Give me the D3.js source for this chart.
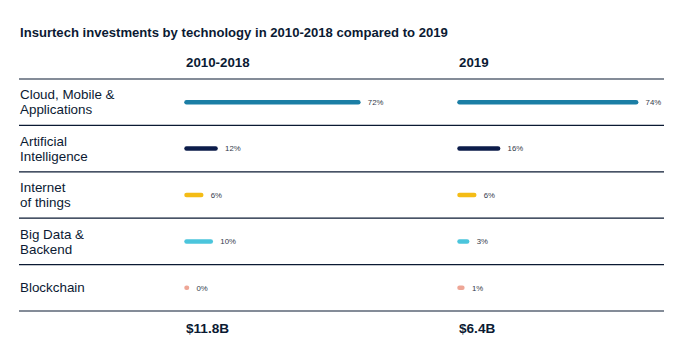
<!DOCTYPE html>
<html><head><meta charset="utf-8">
<script src="https://cdn.jsdelivr.net/npm/d3@7"></script>
<style>body{margin:0;background:#fff}svg{display:block}text{font-family:"Liberation Sans",Arial,sans-serif}</style>
</head><body><svg id="c" width="689" height="360"></svg>
<script>
const categories = [["Cloud, Mobile &","Applications"],["Artificial","Intelligence"],["Internet","of things"],["Big Data &","Backend"],["Blockchain"]];
const periods = ["2010-2018","2019"];
const totals = ["$11.8B","$6.4B"];
const values2010_2018 = [72,12,6,10,0];
const values2019 = [74,16,6,3,1];
const colors = ["#1b7ea5","#0c1c4a","#f4bc16","#4bc5dc","#eea696"];
const title = "Insurtech investments by technology in 2010-2018 compared to 2019";

const svg = d3.select("#c");
const ink = "#0b1a33";
const series = [values2010_2018, values2019];
const colX = d3.scaleOrdinal().domain(periods).range([184, 457]);
const rowY = d3.scaleBand().domain(d3.range(categories.length)).range([79, 311]);
const len = d3.scaleLinear().domain([0, 100]).range([0, 238]);

svg.append("text").attr("x", 20).attr("y", 36.5).attr("font-size", 13.1).attr("font-weight", "bold").attr("fill", ink).text(title);

periods.forEach((p, i) => {
  svg.append("text").attr("x", colX(p) + 2).attr("y", 66.5).attr("font-size", 13.3).attr("font-weight", "bold").attr("fill", ink).text(p);
  svg.append("text").attr("x", colX(p) + 2).attr("y", 333).attr("font-size", 13.6).attr("font-weight", "bold").attr("fill", ink).text(totals[i]);
});

// separators
const lines = [79].concat(d3.range(categories.length).map(i => rowY(i) + rowY.bandwidth()));
svg.selectAll("line.sep").data(lines).join("line").attr("class", "sep")
  .attr("x1", 19).attr("x2", 664).attr("y1", d => d).attr("y2", d => d)
  .attr("stroke", ink).attr("stroke-width", 1.2);

categories.forEach((c, i) => {
  const cy = rowY(i) + rowY.bandwidth() / 2;
  const t = svg.append("text").attr("x", 20).attr("font-size", 13.4).attr("fill", ink);
  const n = c.length;
  c.forEach((s, k) => {
    t.append("tspan").attr("x", 20).attr("y", cy + 4.6 + (k - (n - 1) / 2) * 15).text(s);
  });
});

periods.forEach((p, si) => {
  const x0 = colX(p);
  const g = svg.append("g");
  series[si].forEach((v, i) => {
    const cy = rowY(i) + rowY.bandwidth() / 2;
    const x1 = x0 + 2.5, x2 = x0 + 2.5 + len(v) + 0.5;
    g.append("line").attr("x1", x1).attr("x2", x2).attr("y1", cy).attr("y2", cy)
      .attr("stroke", colors[i]).attr("stroke-width", 4.5).attr("stroke-linecap", "round");
    g.append("text").attr("x", x2 + 9.5).attr("y", cy + 2.8).attr("font-size", 7.8).attr("fill", "#333a4a").text(v + "%");
  });
});
</script></body></html>
